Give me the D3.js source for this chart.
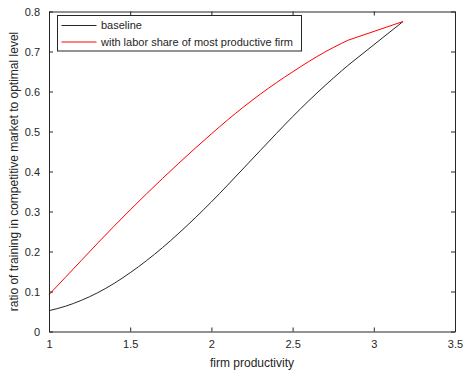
<!DOCTYPE html>
<html>
<head>
<meta charset="utf-8">
<script src="https://cdn.jsdelivr.net/npm/d3@7"></script>
<style>
  body { margin: 0; background: #fff; }
  text { font-family: "Liberation Sans", Arial, sans-serif; fill: #262626; }
</style>
</head>
<body>
<div id="chart"></div>
<script>
// firm productivity grid
const xVals = [1.0, 1.1, 1.2, 1.3, 1.4, 1.5, 1.6, 1.7, 1.8, 1.9, 2.0, 2.1, 2.2, 2.3, 2.4, 2.5, 2.6, 2.7, 2.8, 2.84, 3.18]
// ratio of training, baseline
const baseline = [0.052, 0.063, 0.078, 0.097, 0.120, 0.147, 0.177, 0.210, 0.246, 0.284, 0.324, 0.366, 0.409, 0.452, 0.495, 0.537, 0.577, 0.615, 0.651, 0.665, 0.775]
// with labor share of most productive firm
const laborShare = [0.092, 0.135, 0.178, 0.221, 0.263, 0.304, 0.344, 0.383, 0.421, 0.458, 0.494, 0.529, 0.562, 0.593, 0.622, 0.649, 0.675, 0.699, 0.720, 0.728, 0.775]

const seriesNames = ['baseline', 'with labor share of most productive firm']
const xTicks = [1, 1.5, 2, 2.5, 3, 3.5]
const yTicks = [0, 0.1, 0.2, 0.3, 0.4, 0.5, 0.6, 0.7, 0.8]

const W = 466, H = 371
const margin = { top: 11.5, right: 11, bottom: 39.5, left: 49 }
const width = W - margin.left - margin.right
const height = H - margin.top - margin.bottom
const axisCol = '#262626'

const svg = d3.select('#chart').append('svg')
  .attr('width', W)
  .attr('height', H)

const g = svg.append('g')
  .attr('transform', 'translate(' + margin.left + ',' + margin.top + ')')

const x = d3.scaleLinear().domain([1, 3.5]).range([0, width])
const y = d3.scaleLinear().domain([0, 0.8]).range([height, 0])

// smooth through the fine grid, the last coarse step stays straight
const smooth = d3.line()
  .x(d => x(d[0]))
  .y(d => y(d[1]))
  .curve(d3.curveMonotoneX)
const pathFor = pts => {
  const last = pts[pts.length - 1]
  return smooth(pts.slice(0, -1)) + 'L' + x(last[0]) + ',' + y(last[1])
}

const series = [
  { name: seriesNames[0], color: '#262626', pts: xVals.map((v, i) => [v, baseline[i]]) },
  { name: seriesNames[1], color: '#ff0000', pts: xVals.map((v, i) => [v, laborShare[i]]) }
]

g.selectAll('path.series')
  .data(series)
  .enter().append('path')
  .attr('class', 'series')
  .attr('d', d => pathFor(d.pts))
  .attr('fill', 'none')
  .attr('stroke', d => d.color)
  .attr('stroke-width', 1)

// axes, matlab style: ticks inside, mirrored on top/right
const tl = 4
const bottomAx = g.append('g')
  .attr('transform', 'translate(0,' + height + ')')
  .call(d3.axisBottom(x).tickValues(xTicks).tickSizeInner(-tl).tickSizeOuter(0).tickPadding(9).tickFormat(d3.format('')))
const topAx = g.append('g')
  .call(d3.axisTop(x).tickValues(xTicks).tickSizeInner(-tl).tickSizeOuter(0).tickFormat(''))
const leftAx = g.append('g')
  .call(d3.axisLeft(y).tickValues(yTicks).tickSizeInner(-tl).tickSizeOuter(0).tickPadding(9).tickFormat(d3.format('')))
const rightAx = g.append('g')
  .attr('transform', 'translate(' + width + ',0)')
  .call(d3.axisRight(y).tickValues(yTicks).tickSizeInner(-tl).tickSizeOuter(0).tickFormat(''))

;[bottomAx, topAx, leftAx, rightAx].forEach(a => {
  a.select('.domain').attr('stroke', axisCol).attr('stroke-width', 1)
  a.selectAll('.tick line').attr('stroke', axisCol).attr('stroke-width', 1)
  a.selectAll('.tick text')
    .attr('fill', axisCol)
    .style('font-size', '11px')
    .style('font-family', '"Liberation Sans", Arial, sans-serif')
})

// axis labels
svg.append('text')
  .attr('x', margin.left + width / 2)
  .attr('y', 367)
  .attr('text-anchor', 'middle')
  .style('font-size', '12px')
  .text('firm productivity')

svg.append('text')
  .attr('transform', 'translate(18,' + (margin.top + height / 2) + ') rotate(-90)')
  .attr('text-anchor', 'middle')
  .style('font-size', '12px')
  .text('ratio of training in competitive market to optimal level')

// legend
const lg = svg.append('g').attr('transform', 'translate(57.5,15.5)')
lg.append('rect')
  .attr('width', 244)
  .attr('height', 35.5)
  .attr('fill', '#fff')
  .attr('stroke', axisCol)
  .attr('stroke-width', 1)

series.forEach((s, i) => {
  const yy = 10 + i * 16.5
  lg.append('line')
    .attr('x1', 4).attr('x2', 39)
    .attr('y1', yy).attr('y2', yy)
    .attr('stroke', s.color)
    .attr('stroke-width', 1)
  lg.append('text')
    .attr('x', 43.5)
    .attr('y', yy)
    .attr('dy', '0.35em')
    .style('font-size', '11px')
    .text(s.name)
})
</script>
</body>
</html>
